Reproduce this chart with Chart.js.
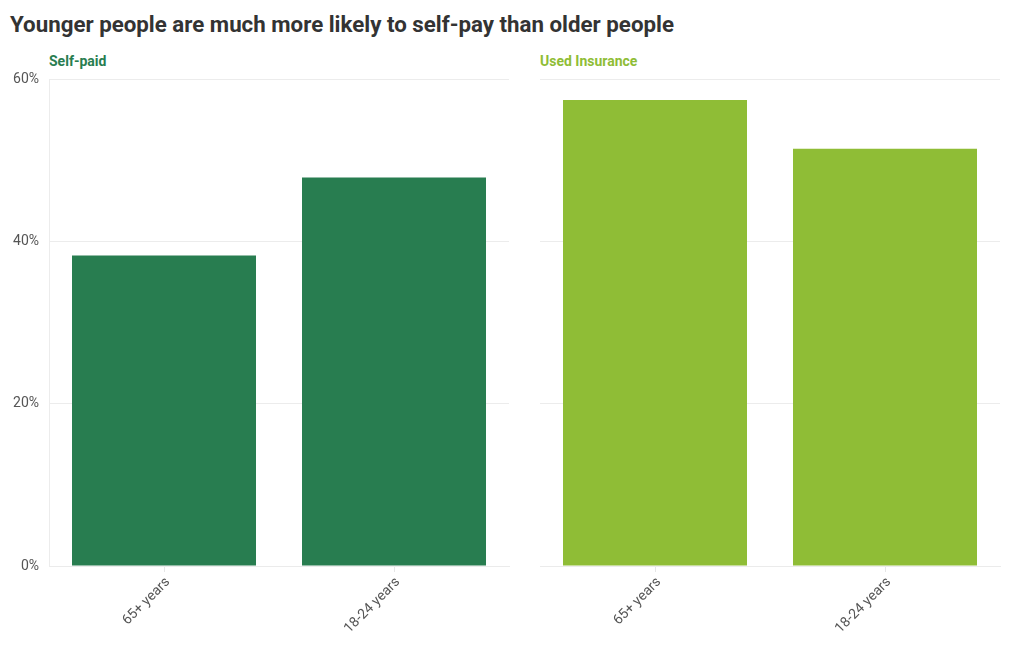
<!DOCTYPE html>
<html lang="en">
<head>
<meta charset="UTF-8">
<title>Self-pay by age</title>
<script src="https://cdn.jsdelivr.net/npm/chart.js"></script>
<style>
  body { margin: 0; background: #fff; font-family: Roboto, sans-serif; }
  #wrap { position: relative; width: 1020px; height: 650px; }
  h1 { position: absolute; left: 10px; top: 11px; margin: 0; font-size: 22.3px; font-weight: 700; color: #333; }
  .panel-title { position: absolute; top: 53px; font-size: 14px; font-weight: 700; }
  .box { position: absolute; }
</style>
</head>
<body>
<div id="wrap">
  <h1>Younger people are much more likely to self-pay than older people</h1>
  <div class="panel-title" style="left:49px;color:#287d50">Self-paid</div>
  <div class="panel-title" style="left:540px;color:#8fbd36">Used Insurance</div>
  <div class="box" style="left:0;top:61px;width:515px;height:589px"><canvas id="left"></canvas></div>
  <div class="box" style="left:515px;top:70px;width:505px;height:580px"><canvas id="right"></canvas></div>
</div>
<script>
const ageGroups = ["65+ years", "18-24 years"];
const selfPaid = [38.3, 47.9];
const usedInsurance = [57.4, 51.4];
const yTicks = [0, 20, 40, 60];

function makeChart(id, values, color, showY, yWidth, padTop, padRight) {
  return new Chart(document.getElementById(id), {
    type: "bar",
    data: {
      labels: ageGroups,
      datasets: [{
        data: values,
        backgroundColor: color,
        categoryPercentage: 0.8,
        barPercentage: 1.0,
      }],
    },
    options: {
      responsive: true,
      maintainAspectRatio: false,
      animation: false,
      layout: { padding: { top: padTop, right: padRight, left: 0, bottom: 0 } },
      plugins: { legend: { display: false }, tooltip: { enabled: false } },
      scales: {
        x: {
          grid: { drawOnChartArea: false, offset: false, color: "#e6e6e6", tickLength: 6 },
          border: { color: "#ebebeb" },
          ticks: {
            color: "#555",
            font: { family: "Roboto", size: 14 },
            minRotation: 45,
            maxRotation: 45,
            padding: 2,
            labelOffset: 4,
          },
          afterFit: (s) => { s.height = 84; },
        },
        y: {
          min: 0,
          max: 60,
          afterBuildTicks: (s) => { s.ticks = yTicks.map(v => ({ value: v })); },
          grid: { color: "#ececec", drawTicks: false },
          border: { display: showY, color: "#ececec" },
          ticks: {
            display: showY,
            color: "#555",
            font: { family: "Roboto", size: 14 },
            padding: 10,
            callback: (v) => v + "%",
          },
          afterFit: (s) => { s.width = yWidth; },
        },
      },
    },
  });
}

makeChart("left", selfPaid, "#287d50", true, 49, 2, 6);
makeChart("right", usedInsurance, "#8fbd36", false, 25, 9, 20);
</script>
</body>
</html>
